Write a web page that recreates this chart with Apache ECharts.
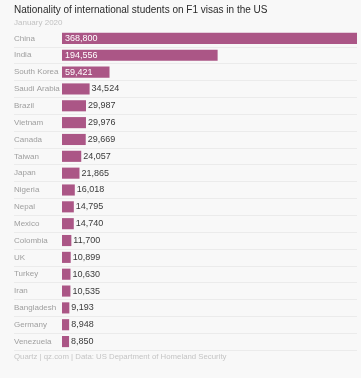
<!DOCTYPE html>
<html>
<head>
<meta charset="utf-8">
<script src="https://cdn.jsdelivr.net/npm/echarts@6/dist/echarts.min.js"></script>
<style>
html,body{margin:0;padding:0;background:#f8f8f8;}
#chart{width:361px;height:378px;}
</style>
</head>
<body>
<div id="chart"></div>
<script>
var categories = ["China","India","South Korea","Saudi Arabia","Brazil","Vietnam","Canada","Taiwan","Japan","Nigeria","Nepal","Mexico","Colombia","UK","Turkey","Iran","Bangladesh","Germany","Venezuela"];
var students = [368800,194556,59421,34524,29987,29976,29669,24057,21865,16018,14795,14740,11700,10899,10630,10535,9193,8948,8850];

var FONT = '"Liberation Sans", Arial, sans-serif';
var maxVal = Math.max.apply(null, students);
var insideThreshold = 50000;

var sepColors = categories.map(function(){ return '#ebebeb'; });
sepColors.unshift('rgba(0,0,0,0)');
sepColors.push('rgba(0,0,0,0)');

var data = students.map(function(v){
  var inside = v >= insideThreshold;
  return {
    value: v,
    label: inside
      ? {position: 'insideLeft', color: '#ffffff', distance: 3}
      : {position: 'right', color: '#3a3a3a', distance: 2}
  };
});

var chart = echarts.init(document.getElementById('chart'), null, {renderer: 'canvas'});
chart.setOption({
  backgroundColor: '#f8f8f8',
  animation: false,
  title: [{
    text: 'Nationality of international students on F1 visas in the US',
    subtext: 'January 2020',
    left: 10,
    top: 4,
    padding: [0, 4],
    itemGap: 1,
    textStyle: {fontFamily: FONT, fontSize: 10, fontWeight: 'normal', color: '#2a2a2a', lineHeight: 13},
    subtextStyle: {fontFamily: FONT, fontSize: 8, color: '#c2c2c2', lineHeight: 10}
  }, {
    text: 'Quartz | qz.com | Data: US Department of Homeland Security',
    left: 10,
    top: 352,
    padding: [0, 4],
    textStyle: {fontFamily: FONT, fontSize: 7.8, fontWeight: 'normal', color: '#c4c4c4', lineHeight: 10}
  }],
  grid: {left: 14, right: 4, top: 30, bottom: 28, containLabel: false},
  xAxis: {
    type: 'value',
    min: -60000,
    max: maxVal,
    show: false
  },
  yAxis: {
    type: 'category',
    data: categories,
    inverse: true,
    axisLine: {show: false},
    axisTick: {show: false},
    axisLabel: {inside: true, margin: 0, color: '#9e9e9e', fontFamily: FONT, fontSize: 8},
    splitLine: {show: true, lineStyle: {color: sepColors, width: 1}}
  },
  series: [{
    type: 'bar',
    data: data,
    barCategoryGap: '34%',
    itemStyle: {color: '#ab5686'},
    label: {
      show: true,
      fontFamily: FONT,
      fontSize: 9,
      formatter: function(p){ return p.value.toLocaleString('en-US'); }
    }
  }]
});
</script>
</body>
</html>
